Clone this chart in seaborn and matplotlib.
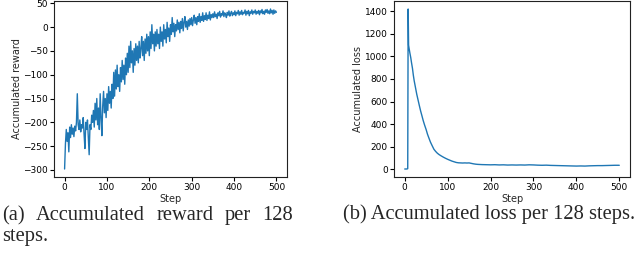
import numpy as np
import pandas as pd
import matplotlib
matplotlib.use("Agg")
import matplotlib.pyplot as plt
import seaborn as sns

reward_steps = list(range(0, 501, 2))
reward = [
    # 0 - 48
    -298, -245, -215, -240, -222, -262, -210, -232, -205, -225, -212, -230, -208,
    -218, -200, -140, -205, -215, -195, -220, -205, -212, -190, -225, -255,
    # 50 - 98
    -200, -215, -195, -230, -268, -205, -215, -185, -200, -175, -210, -160, -195,
    -150, -205, -170, -215, -140, -190, -228, -165, -135, -180, -150, -190,
    # 100 - 148
    -140, -175, -125, -160, -135, -170, -120, -150, -95, -145, -90, -130, -80,
    -125, -100, -135, -85, -115, -70, -110, -80, -120, -65, -100, -55,
    # 150 - 198
    -95, -40, -85, -30, -75, -50, -95, -45, -80, -35, -70, -40, -75,
    -30, -65, -45, -20, -60, -30, -70, -25, -55, -15, -50, -20,
    # 200 - 248
    -60, -10, -45, 5, -35, -15, -50, -10, -40, -5, -35, -15, -45,
    0, -30, -10, -40, 5, -25, -5, -33, 10, -20, -2, -30,
    # 250 - 298
    5, -15, 20, -10, 8, -20, 5, -8, 15, -5, 10, -12, 12,
    -3, 18, -8, 10, 22, 0, 12, -5, 15, 2, 18, 5,
    # 300 - 348
    20, 3, 15, 25, 8, 20, 5, 22, 12, 28, 10, 22, 14,
    30, 12, 24, 16, 30, 14, 25, 18, 32, 15, 26, 20,
    # 350 - 398
    28, 20, 32, 22, 27, 18, 30, 24, 33, 21, 28, 25, 34,
    22, 30, 26, 20, 31, 25, 34, 23, 29, 33, 24, 30,
    # 400 - 448
    26, 34, 24, 31, 28, 35, 25, 32, 27, 35, 26, 31, 29,
    36, 25, 33, 28, 35, 24, 32, 29, 36, 27, 33, 30,
    # 450 - 498
    36, 27, 33, 29, 35, 26, 34, 30, 37, 28, 33, 27, 36,
    31, 37, 29, 34, 28, 38, 30, 35, 27, 36, 29, 34,
    # 500
    31,
]

# loss per 128 steps
loss_steps = [0, 2, 4, 6, 7, 8, 9, 10, 12, 14, 16, 18, 20, 22, 25, 28, 31,
              34, 37, 40, 43, 46, 50, 53, 56, 60, 64, 68, 72, 76, 80, 85,
              90, 95, 100, 105, 110, 115, 120, 125, 130, 135, 140, 145, 150,
              155, 160, 165, 170, 180, 190, 200, 210, 220, 230, 240, 250,
              260, 270, 280, 290, 300, 310, 320, 330, 340, 350, 360, 370,
              380, 390, 400, 410, 420, 430, 440, 450, 460, 470, 480, 490, 500]
loss = [2, 2, 2, 3, 5, 1420, 1100, 1075, 1030, 990, 940, 895, 835, 785, 725,
        665, 615, 565, 517, 475, 432, 395, 350, 311, 280, 240, 208, 177, 158,
        142, 130, 118, 107, 97, 88, 80, 72, 66, 60, 57, 56, 55, 56, 55, 56,
        52, 48, 45, 43, 41, 40, 39, 40, 38, 39, 37, 38, 37, 38, 37, 39, 38,
        36, 35, 36, 34, 33, 32, 31, 30, 29, 28, 29, 28, 30, 31, 32, 32, 33,
        34, 35, 35]

caption_a = ["(a)", "Accumulated", "reward", "per", "128"]
caption_a2 = "steps."
caption_b = "(b) Accumulated loss per 128 steps."

sns.set_style("ticks")
plt.rcParams["font.family"] = ["DejaVu Sans"]

line_color = "#1f77b4"
W, H = 640, 258

fig = plt.figure(figsize=(6.4, 2.58), dpi=100)
ax1 = fig.add_axes([54 / W, 81 / H, 233 / W, 176 / H])
ax2 = fig.add_axes([394 / W, 81 / H, 236 / W, 176 / H])

df_r = pd.DataFrame({"Step": reward_steps, "reward": reward})
df_l = pd.DataFrame({"Step": loss_steps, "loss": loss})

sns.lineplot(data=df_r, x="Step", y="reward", ax=ax1, color=line_color, linewidth=1.0)
sns.lineplot(data=df_l, x="Step", y="loss", ax=ax2, color=line_color, linewidth=1.0)

ax1.set_ylabel("Accumulated reward", fontsize=7, labelpad=1)
ax2.set_ylabel("Accumulated loss", fontsize=7, labelpad=1)
for ax in (ax1, ax2):
    ax.set_xlabel("Step", fontsize=7, labelpad=1)
    ax.set_xticks([0, 100, 200, 300, 400, 500])
    ax.tick_params(labelsize=6.5, length=3, width=0.8, pad=1.5,
                   color="black", labelcolor="black")
    for s in ax.spines.values():
        s.set_color("#222222")
        s.set_linewidth(0.8)
        s.set_visible(True)

ax2.set_yticks([0, 200, 400, 600, 800, 1000, 1200, 1400])

# captions (serif, like the paper); first line of (a) is justified
cap = dict(fontsize=14.8, family="Liberation Serif", va="baseline", ha="left")
renderer = fig.canvas.get_renderer()
texts = [fig.text(0, 1 - 220 / H, w, **cap) for w in caption_a]
widths = [t.get_window_extent(renderer).width for t in texts]
x0, x1 = 2, 293
gap = (x1 - x0 - sum(widths)) / (len(texts) - 1)
x = x0
for t, w in zip(texts, widths):
    t.set_x(x / W)
    x += w + gap
fig.text(2 / W, 1 - 241 / H, caption_a2, **cap)
fig.text(343 / W, 1 - 219 / H, caption_b, **cap)

fig.savefig("out.png", dpi=100)
